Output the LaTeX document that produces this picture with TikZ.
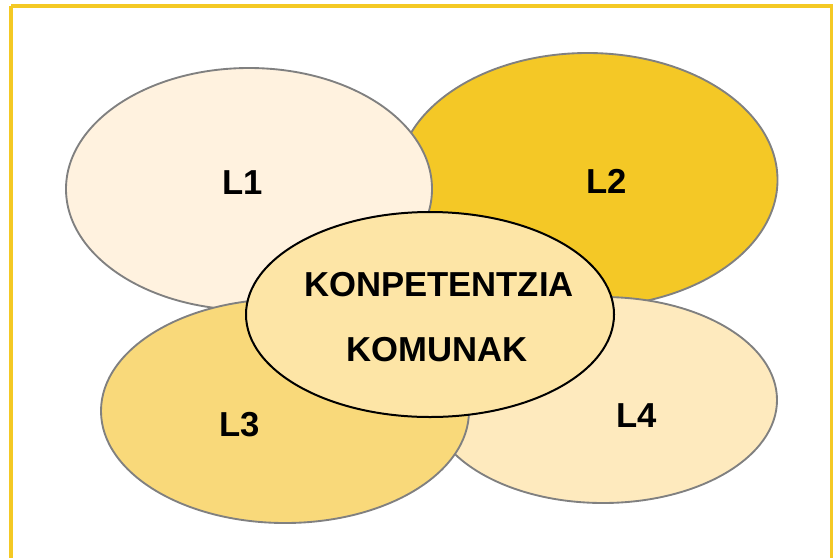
\documentclass[tikz,border=0pt]{standalone}
\usepackage{fontspec}
\setmainfont{Liberation Sans}

\definecolor{frameyellow}{RGB}{244,201,36}
\definecolor{lonecream}{RGB}{255,242,223}
\definecolor{ltwogold}{RGB}{244,200,38}
\definecolor{lthreesand}{RGB}{249,217,122}
\definecolor{lfourpale}{RGB}{254,234,190}
\definecolor{commonfill}{RGB}{253,229,166}
\definecolor{edgegray}{RGB}{128,128,128}

\tikzset{every picture/.style={line width=0.75pt}}
\tikzset{
  lblob/.style={draw=edgegray, line width=1.4pt},
  lbl/.style={inner sep=0.75pt, font=\bfseries\fontsize{26}{30}\selectfont},
}

\begin{document}
\begin{tikzpicture}[x=0.75pt,y=0.75pt,yscale=-1,xscale=1]
\useasboundingbox (0,0) rectangle (837,557);

%Shape: Frame
\draw [draw=frameyellow, line width=2.4pt] (11,6) -- (831.5,6) -- (831.5,560) (11,560) -- (11,6) ;

%Shape: Ellipse L2
\draw [lblob, fill=ltwogold] (587.5,180) ellipse (190 and 127) ;
%Shape: Ellipse L1
\draw [lblob, fill=lonecream] (249,189) ellipse (183 and 121) ;
%Shape: Ellipse L4
\draw [lblob, fill=lfourpale] (603,400) ellipse (174 and 103) ;
%Shape: Ellipse L3
\draw [lblob, fill=lthreesand] (285,411) ellipse (184 and 112) ;
%Shape: Ellipse common
\draw [draw=black, line width=1.5pt, fill=commonfill] (430,314.5) ellipse (184 and 102.5) ;

% Text Node
\node [lbl] (lone) at (243,183) {L1};
% Text Node
\node [lbl] (ltwo) at (607,181) {L2};
% Text Node
\node [lbl] (lthree) at (240,425) {L3};
% Text Node
\node [lbl] (lfour) at (637,416) {L4};
% Text Node
\node [lbl] (konp) at (439,284.5) {KONPETENTZIA};
% Text Node
\node [lbl] (komun) at (437,349.5) {KOMUNAK};

\end{tikzpicture}
\end{document}
